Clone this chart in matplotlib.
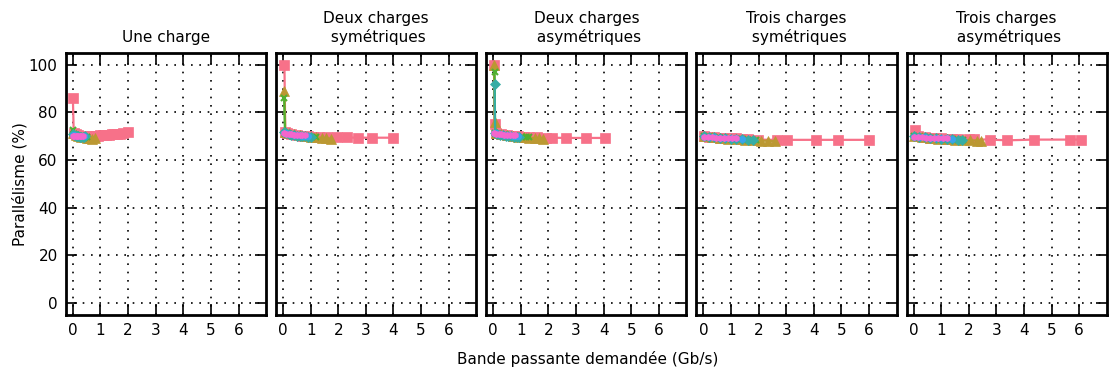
import matplotlib
matplotlib.use("Agg")
import matplotlib.pyplot as plt

titles = ["Une charge", "Deux charges\n symétriques", "Deux charges\n asymétriques",
          "Trois charges\n symétriques", "Trois charges\n asymétriques"]
x_ticks = [0, 1, 2, 3, 4, 5, 6]
y_ticks = [0, 20, 40, 60, 80, 100]
colors = ["#f77189", "#bb9832", "#50b131", "#36ada4", "#3ba3ec", "#f565cc"]
markers = ["s", "^", "x", "D", "o", "h"]
msizes = [7, 7, 5, 5, 4.5, 4.5]

# ---- Panel 1 : Une charge ----
p1_red_x = [0.0, 0.03, 0.1, 0.2, 0.35, 0.5, 0.65, 0.8, 0.9, 1.0, 1.1, 1.2, 1.3, 1.4, 1.5, 1.6, 1.7, 1.8, 2.0]
p1_red_y = [86, 71.5, 70.8, 70.4, 70.2, 70.0, 70.1, 70.2, 70.3, 70.4, 70.5, 70.6, 70.7, 70.8, 70.9, 71.0, 71.1, 71.2, 71.6]
p1_oli_x = [0.0, 0.1, 0.2, 0.3, 0.4, 0.5, 0.6, 0.7, 0.8]
p1_oli_y = [71.5, 70.5, 70.0, 69.8, 69.5, 69.3, 69.2, 69.0, 69.3]
p1_gre_x = [0.0, 0.05, 0.1, 0.15, 0.2, 0.25, 0.3, 0.35, 0.4, 0.45, 0.5]
p1_gre_y = [72.5, 71.0, 70.5, 70.2, 70.0, 69.8, 69.6, 69.5, 69.4, 69.5, 69.6]
p1_tea_x = [0.0, 0.05, 0.1, 0.15, 0.2, 0.25, 0.3, 0.35, 0.4, 0.45]
p1_tea_y = [71.0, 70.6, 70.3, 70.1, 70.0, 69.9, 69.8, 69.8, 69.9, 70.0]
p1_blu_x = [0.0, 0.05, 0.1, 0.15, 0.2, 0.25, 0.3, 0.35, 0.4]
p1_blu_y = [70.5, 70.4, 70.3, 70.2, 70.1, 70.0, 70.0, 70.1, 70.2]
p1_mag_x = [0.0, 0.05, 0.1, 0.15, 0.2, 0.25, 0.3, 0.35]
p1_mag_y = [70.2, 70.2, 70.1, 70.0, 70.0, 70.0, 70.1, 70.2]

# ---- Panel 2 : Deux charges symétriques ----
p2_red_x = [0.05, 0.08, 0.15, 0.3, 0.5, 0.7, 0.9, 1.1, 1.3, 1.6, 1.96, 2.32, 2.7, 3.23, 3.98]
p2_red_y = [100, 72.0, 71.5, 71.0, 70.6, 70.3, 70.0, 69.8, 69.7, 69.6, 69.5, 69.5, 69.4, 69.4, 69.4]
p2_oli_x = [0.05, 0.08, 0.2, 0.4, 0.6, 0.8, 1.0, 1.2, 1.4, 1.55, 1.75]
p2_oli_y = [89, 72.0, 71.2, 70.8, 70.4, 70.1, 69.8, 69.5, 69.3, 69.1, 69.0]
p2_gre_x = [0.04, 0.07, 0.15, 0.3, 0.45, 0.6, 0.75, 0.9, 1.05, 1.2]
p2_gre_y = [86, 71.5, 71.0, 70.6, 70.3, 70.0, 69.8, 69.6, 69.5, 69.5]
p2_tea_x = [0.03, 0.1, 0.2, 0.3, 0.4, 0.5, 0.6, 0.7, 0.8, 0.9, 1.0]
p2_tea_y = [72.0, 71.2, 70.8, 70.6, 70.4, 70.3, 70.2, 70.1, 70.0, 69.9, 69.8]
p2_blu_x = [0.03, 0.1, 0.2, 0.3, 0.4, 0.5, 0.6, 0.7, 0.8, 0.9]
p2_blu_y = [71.5, 71.2, 71.0, 70.8, 70.6, 70.5, 70.4, 70.3, 70.2, 70.2]
p2_mag_x = [0.03, 0.1, 0.2, 0.3, 0.4, 0.5, 0.6, 0.7, 0.8]
p2_mag_y = [71.2, 71.0, 70.9, 70.8, 70.7, 70.6, 70.5, 70.4, 70.4]

# ---- Panel 3 : Deux charges asymétriques ----
p3_red_x = [0.03, 0.05, 0.1, 0.3, 0.5, 0.7, 0.9, 1.1, 1.3, 1.6, 1.9, 2.14, 2.64, 3.36, 4.05]
p3_red_y = [100, 75.0, 71.5, 71.0, 70.6, 70.3, 70.0, 69.8, 69.6, 69.5, 69.4, 69.4, 69.3, 69.3, 69.3]
p3_oli_x = [0.03, 0.05, 0.1, 0.3, 0.5, 0.7, 0.9, 1.1, 1.3, 1.5, 1.65, 1.8]
p3_oli_y = [100, 76.0, 71.5, 71.0, 70.6, 70.2, 69.9, 69.6, 69.4, 69.2, 69.1, 69.0]
p3_gre_x = [0.05, 0.07, 0.15, 0.3, 0.45, 0.6, 0.75, 0.9, 1.05, 1.2, 1.3]
p3_gre_y = [97, 71.5, 71.0, 70.6, 70.3, 70.1, 69.9, 69.7, 69.6, 69.5, 69.5]
p3_tea_x = [0.05, 0.07, 0.15, 0.25, 0.35, 0.45, 0.55, 0.65, 0.75, 0.85, 0.95]
p3_tea_y = [92, 71.5, 71.0, 70.7, 70.5, 70.3, 70.2, 70.0, 69.9, 69.8, 69.7]
p3_blu_x = [0.03, 0.1, 0.2, 0.3, 0.4, 0.5, 0.6, 0.7, 0.8, 0.9]
p3_blu_y = [71.5, 71.2, 71.0, 70.8, 70.6, 70.5, 70.4, 70.3, 70.2, 70.2]
p3_mag_x = [0.03, 0.1, 0.2, 0.3, 0.4, 0.5, 0.6, 0.7, 0.8]
p3_mag_y = [71.2, 71.0, 70.9, 70.8, 70.7, 70.6, 70.5, 70.4, 70.4]

# ---- Panel 4 : Trois charges symétriques ----
p4_red_x = [0.03, 0.2, 0.4, 0.6, 0.8, 1.0, 1.2, 1.4, 1.6, 1.97, 2.66, 3.03, 4.07, 4.86, 6.0]
p4_red_y = [70.0, 69.8, 69.6, 69.4, 69.3, 69.2, 69.1, 69.0, 68.9, 68.6, 68.5, 68.5, 68.5, 68.5, 68.5]
p4_oli_x = [0.03, 0.3, 0.6, 0.9, 1.2, 1.5, 1.8, 2.1, 2.35, 2.6]
p4_oli_y = [70.0, 69.6, 69.3, 69.0, 68.8, 68.6, 68.4, 68.2, 68.1, 68.0]
p4_gre_x = [0.03, 0.2, 0.4, 0.6, 0.8, 1.0, 1.2, 1.4, 1.6, 1.8, 1.9]
p4_gre_y = [70.2, 69.9, 69.6, 69.4, 69.2, 69.0, 68.9, 68.8, 68.6, 68.5, 68.4]
p4_tea_x = [0.03, 0.2, 0.4, 0.6, 0.8, 1.0, 1.2, 1.4, 1.6, 1.8]
p4_tea_y = [70.0, 69.7, 69.5, 69.3, 69.1, 69.0, 68.8, 68.7, 68.6, 68.5]
p4_blu_x = [0.03, 0.2, 0.4, 0.6, 0.8, 1.0, 1.2, 1.4]
p4_blu_y = [69.8, 69.6, 69.5, 69.4, 69.3, 69.2, 69.1, 69.0]
p4_mag_x = [0.03, 0.15, 0.3, 0.45, 0.6, 0.75, 0.9, 1.05, 1.2]
p4_mag_y = [69.6, 69.5, 69.5, 69.4, 69.4, 69.3, 69.3, 69.2, 69.2]

# ---- Panel 5 : Trois charges asymétriques ----
p5_red_x = [0.06, 0.15, 0.4, 0.6, 0.8, 1.0, 1.2, 1.4, 1.6, 2.0, 2.2, 2.76, 3.4, 4.35, 5.65, 6.05]
p5_red_y = [72.5, 70.0, 69.6, 69.4, 69.2, 69.1, 69.0, 68.9, 68.8, 68.7, 68.7, 68.6, 68.3, 68.6, 68.6, 68.6]
p5_oli_x = [0.03, 0.3, 0.6, 0.9, 1.2, 1.5, 1.8, 2.05, 2.3, 2.45]
p5_oli_y = [70.0, 69.6, 69.3, 69.0, 68.8, 68.6, 68.4, 68.3, 68.2, 68.2]
p5_gre_x = [0.03, 0.2, 0.4, 0.6, 0.8, 1.0, 1.2, 1.4, 1.6, 1.8]
p5_gre_y = [70.2, 69.9, 69.6, 69.4, 69.2, 69.0, 68.9, 68.7, 68.6, 68.5]
p5_tea_x = [0.03, 0.2, 0.4, 0.6, 0.8, 1.0, 1.2, 1.4, 1.6, 1.75]
p5_tea_y = [70.0, 69.7, 69.5, 69.3, 69.1, 69.0, 68.8, 68.7, 68.6, 68.5]
p5_blu_x = [0.03, 0.2, 0.4, 0.6, 0.8, 1.0, 1.2, 1.4]
p5_blu_y = [69.8, 69.6, 69.5, 69.4, 69.3, 69.2, 69.1, 69.0]
p5_mag_x = [0.03, 0.15, 0.3, 0.45, 0.6, 0.75, 0.9, 1.05, 1.2]
p5_mag_y = [69.6, 69.5, 69.5, 69.4, 69.4, 69.3, 69.3, 69.2, 69.2]

panels = [
    [(p1_red_x, p1_red_y), (p1_oli_x, p1_oli_y), (p1_gre_x, p1_gre_y),
     (p1_tea_x, p1_tea_y), (p1_blu_x, p1_blu_y), (p1_mag_x, p1_mag_y)],
    [(p2_red_x, p2_red_y), (p2_oli_x, p2_oli_y), (p2_gre_x, p2_gre_y),
     (p2_tea_x, p2_tea_y), (p2_blu_x, p2_blu_y), (p2_mag_x, p2_mag_y)],
    [(p3_red_x, p3_red_y), (p3_oli_x, p3_oli_y), (p3_gre_x, p3_gre_y),
     (p3_tea_x, p3_tea_y), (p3_blu_x, p3_blu_y), (p3_mag_x, p3_mag_y)],
    [(p4_red_x, p4_red_y), (p4_oli_x, p4_oli_y), (p4_gre_x, p4_gre_y),
     (p4_tea_x, p4_tea_y), (p4_blu_x, p4_blu_y), (p4_mag_x, p4_mag_y)],
    [(p5_red_x, p5_red_y), (p5_oli_x, p5_oli_y), (p5_gre_x, p5_gre_y),
     (p5_tea_x, p5_tea_y), (p5_blu_x, p5_blu_y), (p5_mag_x, p5_mag_y)],
]

plt.rcParams['font.family'] = ['DejaVu Sans']
plt.rcParams['font.size'] = 11

fig, axes = plt.subplots(1, 5, figsize=(11.09, 3.72), dpi=100, sharey=True)
fig.subplots_adjust(left=0.0595, right=0.998, top=0.858, bottom=0.153, wspace=0.05)

for i, ax in enumerate(axes):
    for j, (xs, ys) in enumerate(panels[i]):
        ax.plot(xs, ys, color=colors[j], marker=markers[j], markersize=msizes[j],
                linewidth=1.6, markeredgewidth=1.5 if markers[j] == "x" else 0.5,
                markeredgecolor=colors[j], zorder=3 + j)
    ax.set_xlim(-0.25, 7)
    ax.set_ylim(-5, 105)
    ax.set_xticks(x_ticks)
    ax.set_yticks(y_ticks)
    ax.grid(True, linestyle=(0, (1, 4)), color="black", linewidth=1.2)
    ax.tick_params(direction="in", length=8, width=1.2, top=True, right=True,
                   labelsize=11, pad=6)
    for s in ax.spines.values():
        s.set_linewidth(2)
    ax.set_title(titles[i], fontsize=11, pad=8)

axes[0].set_ylabel("Parallélisme (%)", fontsize=11, labelpad=1)
fig.text(0.53, 0.035, "Bande passante demandée (Gb/s)", ha="center", va="center", fontsize=11)

fig.savefig("out.png", dpi=100)
